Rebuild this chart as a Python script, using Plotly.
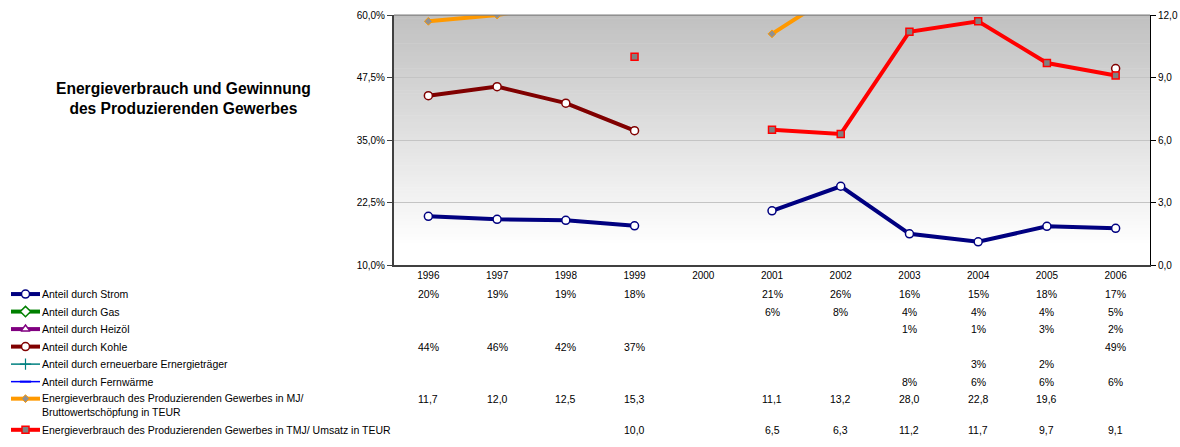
import plotly.graph_objects as go

years = ["1996", "1997", "1998", "1999", "2000", "2001", "2002", "2003", "2004", "2005", "2006"]

strom = [19.8, 19.2, 19.0, 17.9, None, 20.9, 25.8, 16.3, 14.7, 17.8, 17.4]
gas = [None, None, None, None, None, 6, 8, 4, 4, 4, 5]
heizoel = [None, None, None, None, None, None, None, 1, 1, 3, 2]
kohle = [43.9, 45.7, 42.4, 36.9, None, None, None, None, None, None, 49.3]
erneuerbar = [None, None, None, None, None, None, None, None, 3, 2, None]
fernwaerme = [None, None, None, None, None, None, None, 8, 6, 6, 6]
mj_bws = [11.7, 12.0, 12.5, 15.3, None, 11.1, 13.2, 28.0, 22.8, 19.6, None]
tmj_umsatz = [None, None, None, 10.0, None, 6.5, 6.3, 11.2, 11.7, 9.7, 9.1]

names = [
    "Anteil durch Strom",
    "Anteil durch Gas",
    "Anteil durch Heizöl",
    "Anteil durch Kohle",
    "Anteil durch erneuerbare Ernergieträger",
    "Anteil durch Fernwärme",
    "Energieverbrauch des Produzierenden Gewerbes in MJ/<br>Bruttowertschöpfung in TEUR",
    "Energieverbrauch des Produzierenden Gewerbes in TMJ/ Umsatz in TEUR",
]
title_text = "Energieverbrauch und Gewinnung<br>des Produzierenden Gewerbes"

left_ticks = [10, 22.5, 35, 47.5, 60]
right_ticks = [0, 3, 6, 9, 12]

W, H = 1180, 447
FONT = "Liberation Sans, Arial, sans-serif"


def px(x):
    return x / W


def py(y):
    return 1 - y / H


PX0, PX1 = 394, 1150   # plot area x in px
PY0, PY1 = 9.3, 266.5  # plot area y in px (top, bottom)

series = [
    (strom, "y", "#000080", 4, dict(symbol="circle", size=8, color="white", line=dict(color="#000080", width=1.5)), True),
    (gas, "y", "#008000", 4, dict(symbol="diamond", size=8, color="white", line=dict(color="#008000", width=1.5)), True),
    (heizoel, "y", "#800080", 4, dict(symbol="triangle-up", size=8, color="white", line=dict(color="#800080", width=1.5)), True),
    (kohle, "y", "#800000", 4, dict(symbol="circle", size=8, color="white", line=dict(color="#800000", width=1.5)), True),
    (erneuerbar, "y", "#008080", 1.5, dict(symbol="cross-thin", size=8, color="#008080", line=dict(color="#008080", width=1.2)), True),
    (fernwaerme, "y", "#0000FF", 1.5, dict(symbol="line-ew", size=8, color="#0000FF", line=dict(color="#0000FF", width=2)), True),
    (mj_bws, "y2", "#FF9900", 4, dict(symbol="diamond", size=6, color="#909090", line=dict(color="#FF9900", width=1)), False),
    (tmj_umsatz, "y2", "#FF0000", 4, dict(symbol="square", size=7, color="#808080", line=dict(color="#FF0000", width=1.5)), False),
]

row_y = [296, 314, 332, 350, 368, 386, 403.5, 435.5]
label_y = [296, 314, 332, 350, 368, 386, 410.5, 435.5]

fig = go.Figure()

for (vals, ax, col, lw, mk, pct), nm in zip(series, names):
    fig.add_trace(go.Scatter(
        x=years, y=vals, yaxis=ax, mode="lines+markers",
        line=dict(color=col, width=lw), marker=mk,
        connectgaps=False, showlegend=False, hoverinfo="skip", name=nm,
    ))

# legend keys on a pixel overlay axis
for (vals, ax, col, lw, mk, pct), ry in zip(series, row_y):
    fig.add_trace(go.Scatter(
        x=[11, 40], y=[ry, ry], xaxis="x3", yaxis="y3",
        mode="lines", line=dict(color=col, width=lw),
        showlegend=False, hoverinfo="skip", cliponaxis=False,
    ))
    fig.add_trace(go.Scatter(
        x=[25.5], y=[ry], xaxis="x3", yaxis="y3",
        mode="markers", marker=mk,
        showlegend=False, hoverinfo="skip", cliponaxis=False,
    ))

# gradient background
shapes = []
n = 80
for i in range(n):
    t = (i + 0.5) / n
    v = int(round(192 + (255 - 192) * min(1.0, t / 0.92)))
    y_top = PY0 + (PY1 - PY0) * i / n
    y_bot = min(PY0 + (PY1 - PY0) * (i + 1) / n + 0.6, PY1)
    shapes.append(dict(
        type="rect", xref="paper", yref="paper", layer="below",
        x0=px(PX0), x1=px(PX1), y0=py(y_bot), y1=py(y_top),
        fillcolor=f"rgb({v},{v},{v})", line=dict(width=0),
    ))
shapes.append(dict(type="line", xref="paper", yref="paper", x0=px(PX0), x1=px(PX1),
                   y0=py(PY0), y1=py(PY0), line=dict(color="#808080", width=1.2)))

annotations = []
annotations.append(dict(
    text=f"<b>{title_text}</b>", xref="paper", yref="paper",
    x=px(183.5), y=py(95), xanchor="center", yanchor="middle",
    showarrow=False, align="center", font=dict(family=FONT, size=15.6, color="black"),
))
for nm, ly in zip(names, label_y):
    annotations.append(dict(
        text=nm, xref="paper", yref="paper", x=px(39.5), y=py(ly),
        xanchor="left", yanchor="middle", showarrow=False, align="left",
        font=dict(family=FONT, size=10.5, color="black"),
    ))
for (vals, ax, col, lw, mk, pct), ry in zip(series, row_y):
    for i, v in enumerate(vals):
        if v is None:
            continue
        txt = f"{round(v):.0f}%" if pct else f"{v:.1f}".replace(".", ",")
        annotations.append(dict(
            text=txt, xref="x", yref="paper", x=i, y=py(ry),
            xanchor="center", yanchor="middle", showarrow=False,
            font=dict(family=FONT, size=10.5, color="black"),
        ))

left_text = [f"{v:.1f}".replace(".", ",") + "%" for v in left_ticks]
right_text = [f"{v:.1f}".replace(".", ",") for v in right_ticks]

fig.update_layout(
    width=W, height=H, margin=dict(l=0, r=0, t=0, b=0),
    paper_bgcolor="white", plot_bgcolor="rgba(0,0,0,0)",
    separators=",.", showlegend=False,
    font=dict(family=FONT, size=10, color="black"),
    shapes=shapes, annotations=annotations,
    xaxis=dict(
        type="category", categoryorder="array", categoryarray=years,
        range=[-0.5, 10.5], domain=[px(PX0), px(PX1)], anchor="y",
        showline=True, linecolor="#404040", linewidth=2, ticks="",
        showgrid=False, zeroline=False, tickfont=dict(size=10), fixedrange=True,
    ),
    yaxis=dict(
        range=[10, 60], domain=[py(PY1), py(PY0)], anchor="x",
        tickvals=left_ticks, ticktext=left_text, ticklabeloverflow="allow",
        showline=True, linecolor="#404040", linewidth=2,
        ticks="outside", ticklen=5, tickcolor="#404040",
        showgrid=True, gridcolor="#c4c4c4", gridwidth=1, zeroline=False,
        tickfont=dict(size=10), fixedrange=True,
    ),
    yaxis2=dict(
        range=[0, 12], overlaying="y", side="right", anchor="x",
        tickvals=right_ticks, ticktext=right_text, ticklabeloverflow="allow",
        showline=True, linecolor="black", linewidth=1,
        ticks="outside", ticklen=5, tickcolor="black",
        showgrid=False, zeroline=False, tickfont=dict(size=10), fixedrange=True,
    ),
    xaxis3=dict(domain=[0, 1], range=[0, W], anchor="y3", visible=False, fixedrange=True),
    yaxis3=dict(domain=[0, 1], range=[H, 0], anchor="x3", visible=False, fixedrange=True),
)

fig.write_html(
    "out.html",
    config={"displayModeBar": False, "staticPlot": True},
    post_script="document.body.style.margin='0';document.body.style.overflow='hidden';",
)
